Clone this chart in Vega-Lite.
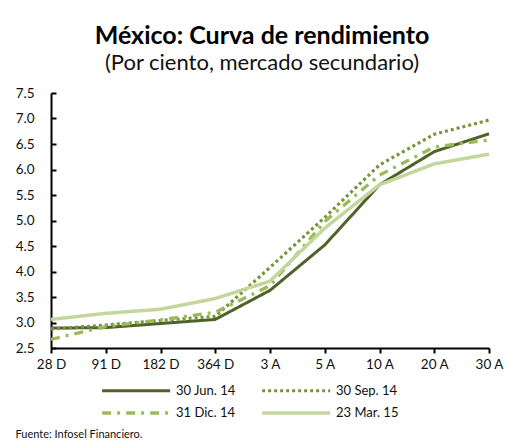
{
  "$schema": "https://vega.github.io/schema/vega-lite/v6.json",
  "autosize": {"type": "none"},
  "width": 438,
  "height": 255,
  "padding": {"left": 51, "top": 93, "right": 20, "bottom": 97},
  "background": "white",
  "title": {
    "text": "México: Curva de rendimiento",
    "subtitle": "(Por ciento, mercado secundario)",
    "font": "Lato",
    "fontSize": 25,
    "fontWeight": "bold",
    "color": "#000000",
    "subtitleFont": "Lato",
    "subtitleFontSize": 22,
    "subtitleColor": "#111111",
    "subtitlePadding": 4,
    "anchor": "middle",
    "dx": -8,
    "offset": 12
  },
  "data": {
    "values": [
      {"plazo": "28 D", "serie": "30 Jun. 14", "valor": 2.89},
      {"plazo": "91 D", "serie": "30 Jun. 14", "valor": 2.90},
      {"plazo": "182 D", "serie": "30 Jun. 14", "valor": 2.98},
      {"plazo": "364 D", "serie": "30 Jun. 14", "valor": 3.06},
      {"plazo": "3 A", "serie": "30 Jun. 14", "valor": 3.63},
      {"plazo": "5 A", "serie": "30 Jun. 14", "valor": 4.52},
      {"plazo": "10 A", "serie": "30 Jun. 14", "valor": 5.70},
      {"plazo": "20 A", "serie": "30 Jun. 14", "valor": 6.35},
      {"plazo": "30 A", "serie": "30 Jun. 14", "valor": 6.70},
      {"plazo": "28 D", "serie": "30 Sep. 14", "valor": 2.87},
      {"plazo": "91 D", "serie": "30 Sep. 14", "valor": 2.95},
      {"plazo": "182 D", "serie": "30 Sep. 14", "valor": 3.04},
      {"plazo": "364 D", "serie": "30 Sep. 14", "valor": 3.12},
      {"plazo": "3 A", "serie": "30 Sep. 14", "valor": 4.08},
      {"plazo": "5 A", "serie": "30 Sep. 14", "valor": 5.06},
      {"plazo": "10 A", "serie": "30 Sep. 14", "valor": 6.09},
      {"plazo": "20 A", "serie": "30 Sep. 14", "valor": 6.69},
      {"plazo": "30 A", "serie": "30 Sep. 14", "valor": 6.97},
      {"plazo": "28 D", "serie": "31 Dic. 14", "valor": 2.67},
      {"plazo": "91 D", "serie": "31 Dic. 14", "valor": 2.92},
      {"plazo": "182 D", "serie": "31 Dic. 14", "valor": 3.05},
      {"plazo": "364 D", "serie": "31 Dic. 14", "valor": 3.20},
      {"plazo": "3 A", "serie": "31 Dic. 14", "valor": 3.72},
      {"plazo": "5 A", "serie": "31 Dic. 14", "valor": 4.98},
      {"plazo": "10 A", "serie": "31 Dic. 14", "valor": 5.89},
      {"plazo": "20 A", "serie": "31 Dic. 14", "valor": 6.44},
      {"plazo": "30 A", "serie": "31 Dic. 14", "valor": 6.58},
      {"plazo": "28 D", "serie": "23 Mar. 15", "valor": 3.06},
      {"plazo": "91 D", "serie": "23 Mar. 15", "valor": 3.18},
      {"plazo": "182 D", "serie": "23 Mar. 15", "valor": 3.26},
      {"plazo": "364 D", "serie": "23 Mar. 15", "valor": 3.47},
      {"plazo": "3 A", "serie": "23 Mar. 15", "valor": 3.81},
      {"plazo": "5 A", "serie": "23 Mar. 15", "valor": 4.85},
      {"plazo": "10 A", "serie": "23 Mar. 15", "valor": 5.70},
      {"plazo": "20 A", "serie": "23 Mar. 15", "valor": 6.11},
      {"plazo": "30 A", "serie": "23 Mar. 15", "valor": 6.30}
    ]
  },
  "mark": {"type": "line", "strokeCap": "butt", "strokeJoin": "round"},
  "encoding": {
    "x": {
      "field": "plazo",
      "type": "ordinal",
      "sort": ["28 D", "91 D", "182 D", "364 D", "3 A", "5 A", "10 A", "20 A", "30 A"],
      "scale": {"type": "point", "padding": 0},
      "axis": {
        "title": "Fuente: Infosel Financiero.",
        "titleX": -36,
        "titleY": 89,
        "titleAlign": "left",
        "titleBaseline": "alphabetic",
        "titleFont": "Lato",
        "titleFontSize": 11,
        "titleFontWeight": "normal",
        "titleColor": "#111111",
        "labelAngle": 0,
        "labelFont": "Lato",
        "labelFontSize": 13.5,
        "labelColor": "#111111",
        "labelPadding": 4,
        "domainColor": "#000000",
        "domainWidth": 2,
        "tickColor": "#000000",
        "tickWidth": 2,
        "tickSize": 5,
        "grid": false
      }
    },
    "y": {
      "field": "valor",
      "type": "quantitative",
      "scale": {"domain": [2.5, 7.5], "nice": false, "zero": false},
      "axis": {
        "title": null,
        "values": [2.5, 3.0, 3.5, 4.0, 4.5, 5.0, 5.5, 6.0, 6.5, 7.0, 7.5],
        "format": ".1f",
        "labelFont": "Lato",
        "labelFontSize": 13.5,
        "labelColor": "#111111",
        "labelPadding": 22,
        "domainColor": "#000000",
        "domainWidth": 2,
        "tickColor": "#000000",
        "tickWidth": 2,
        "tickSize": -5,
        "grid": false
      }
    },
    "color": {
      "field": "serie",
      "type": "nominal",
      "sort": ["30 Jun. 14", "30 Sep. 14", "31 Dic. 14", "23 Mar. 15"],
      "scale": {
        "domain": ["30 Jun. 14", "30 Sep. 14", "31 Dic. 14", "23 Mar. 15"],
        "range": ["#4f6228", "#77933c", "#9bbb59", "#c3d69b"]
      },
      "legend": {
        "title": null,
        "orient": "none",
        "legendX": 49,
        "legendY": 291,
        "columns": 2,
        "direction": "horizontal",
        "symbolType": "M-1,0H13",
        "symbolSize": 94.4,
        "labelFont": "Lato",
        "labelFontSize": 13,
        "labelColor": "#111111",
        "labelOffset": 62,
        "columnPadding": 19,
        "rowPadding": 8,
        "padding": 0
      }
    },
    "strokeDash": {
      "field": "serie",
      "type": "nominal",
      "sort": ["30 Jun. 14", "30 Sep. 14", "31 Dic. 14", "23 Mar. 15"],
      "scale": {
        "domain": ["30 Jun. 14", "30 Sep. 14", "31 Dic. 14", "23 Mar. 15"],
        "range": [[1, 0], [3, 3], [9, 6, 3, 6], [1, 0]]
      },
      "legend": {
        "title": null,
        "orient": "none",
        "legendX": 49,
        "legendY": 291,
        "columns": 2,
        "direction": "horizontal",
        "symbolType": "M-1,0H13",
        "symbolSize": 94.4,
        "labelFont": "Lato",
        "labelFontSize": 13,
        "labelColor": "#111111",
        "labelOffset": 62,
        "columnPadding": 19,
        "rowPadding": 8,
        "padding": 0
      }
    },
    "strokeWidth": {
      "field": "serie",
      "type": "nominal",
      "sort": ["30 Jun. 14", "30 Sep. 14", "31 Dic. 14", "23 Mar. 15"],
      "scale": {
        "domain": ["30 Jun. 14", "30 Sep. 14", "31 Dic. 14", "23 Mar. 15"],
        "range": [3, 3.5, 3, 2.5]
      },
      "legend": {
        "title": null,
        "orient": "none",
        "legendX": 49,
        "legendY": 291,
        "columns": 2,
        "direction": "horizontal",
        "symbolType": "M-1,0H13",
        "symbolSize": 94.4,
        "labelFont": "Lato",
        "labelFontSize": 13,
        "labelColor": "#111111",
        "labelOffset": 62,
        "columnPadding": 19,
        "rowPadding": 8,
        "padding": 0
      }
    }
  },
  "config": {
    "view": {"stroke": null}
  }
}
